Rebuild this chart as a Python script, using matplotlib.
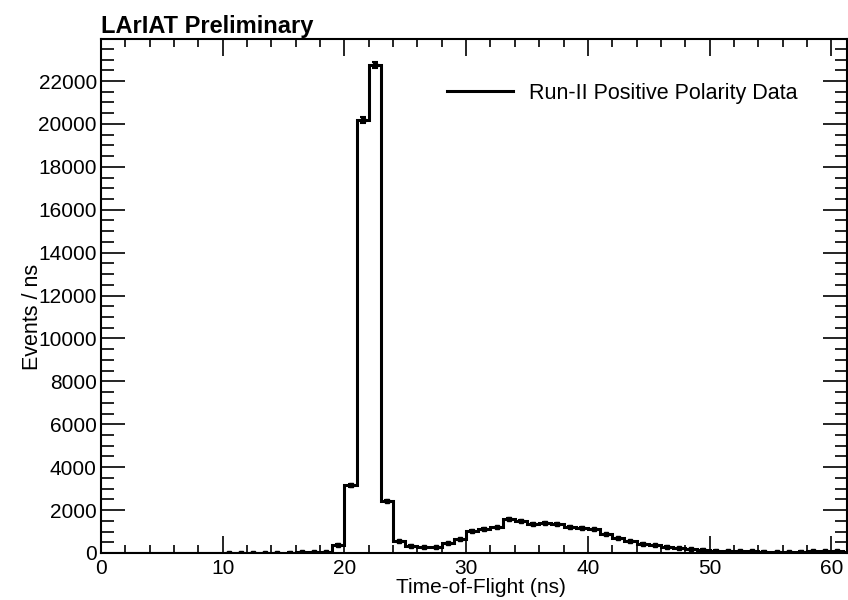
import numpy as np
import matplotlib
matplotlib.use("Agg")
import matplotlib.pyplot as plt
from matplotlib.ticker import MultipleLocator

plt.rcParams["font.family"] = ["Liberation Sans", "DejaVu Sans"]

# 1 ns bins, from 0 to 62 ns
bin_edges = list(range(0, 63))
counts = [
    0, 0, 0, 0, 0, 0, 0, 0, 0, 0,              # 0-9
    5, 10, 5, 10, 15, 20, 25, 30, 60, 390,     # 10-19
    3150, 20180, 22760, 2440, 540, 345, 265, 265, 450, 650,  # 20-29
    1040, 1120, 1200, 1570, 1510, 1350, 1410, 1350, 1230, 1180,  # 30-39
    1100, 870, 680, 540, 430, 360, 295, 240, 195, 160,  # 40-49
    110, 90, 80, 75, 65, 60, 60, 65, 75, 80,    # 50-59
    70, 65,                                     # 60-61
]
legend_label = "Run-II Positive Polarity Data"

counts = np.array(counts, dtype=float)
edges = np.array(bin_edges, dtype=float)
centers = 0.5 * (edges[:-1] + edges[1:])
errors = np.sqrt(counts)

fig = plt.figure(figsize=(8.48, 6.0), dpi=100)
ax = fig.add_axes([101 / 848, 47 / 600, 745.5 / 848, 514 / 600])

ax.stairs(counts, edges, color="black", linewidth=2.2, label=legend_label)
mask = counts > 0
ax.errorbar(centers[mask], counts[mask], yerr=errors[mask], fmt="s", color="black",
            markersize=3, elinewidth=1.5, capsize=2, capthick=1.5)

ax.set_xlim(0, 61.25)
ax.set_ylim(0, 23960)

ax.xaxis.set_major_locator(MultipleLocator(10))
ax.xaxis.set_minor_locator(MultipleLocator(2))
ax.yaxis.set_major_locator(MultipleLocator(2000))
ax.yaxis.set_minor_locator(MultipleLocator(500))
ax.tick_params(which="both", direction="in", top=True, right=True, labelsize=15, width=1.2)
ax.tick_params(axis="y", which="major", length=17, pad=3)
ax.tick_params(axis="y", which="minor", length=9)
ax.tick_params(axis="x", which="major", length=12, pad=4)
ax.tick_params(axis="x", which="minor", length=6)
for sp in ax.spines.values():
    sp.set_linewidth(1.5)

ax.set_xlabel("Time-of-Flight (ns)", fontsize=15)
ax.xaxis.set_label_coords(0.51, -0.049)
ax.set_ylabel("Events / ns", fontsize=15.5)
ax.yaxis.set_label_coords(-0.078, 0.46)

fig.text(101 / 848, 1 - 33 / 600, "LArIAT Preliminary", fontsize=17, fontweight="bold",
         ha="left", va="baseline")

ax.legend(loc="upper left", bbox_to_anchor=(0.452, 0.932), frameon=False, fontsize=15.5,
          handlelength=3.1, handletextpad=0.75, borderaxespad=0)

fig.savefig("out.png", dpi=100)
